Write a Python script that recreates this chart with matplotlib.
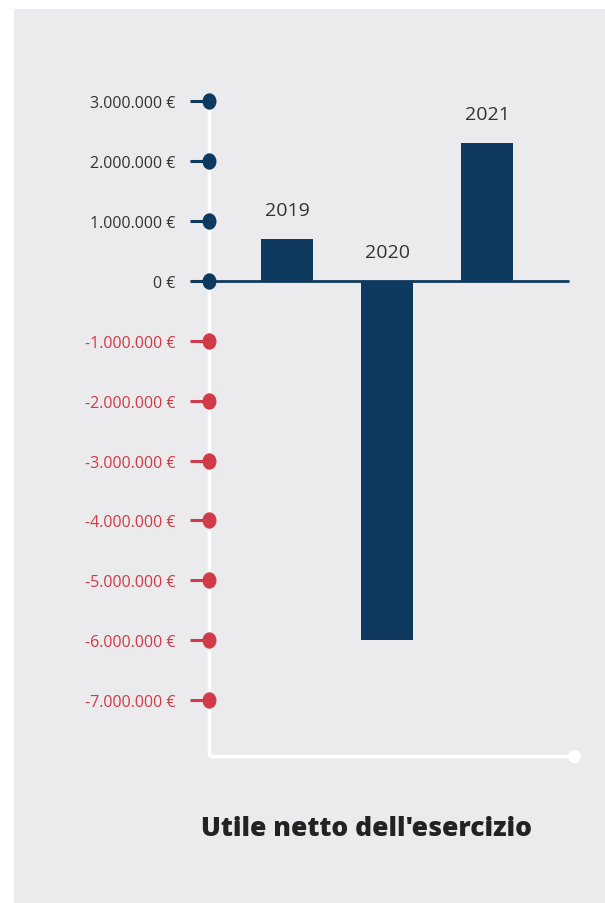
import matplotlib
matplotlib.use("Agg")
import matplotlib.pyplot as plt
from matplotlib.patches import Rectangle
from matplotlib.path import Path
from matplotlib.transforms import Affine2D
import numpy as np

plt.rcParams['font.family'] = ['Open Sans', 'DejaVu Sans']

years = ["2019", "2020", "2021"]
values = [700000, -6000000, 2300000]
tick_values = [3000000, 2000000, 1000000, 0, -1000000, -2000000, -3000000,
               -4000000, -5000000, -6000000, -7000000]
tick_labels = ["3.000.000 €", "2.000.000 €", "1.000.000 €", "0 €",
               "-1.000.000 €", "-2.000.000 €", "-3.000.000 €", "-4.000.000 €",
               "-5.000.000 €", "-6.000.000 €", "-7.000.000 €"]
title = "Utile netto dell'esercizio"

NAVY = "#0F3A5F"
RED = "#D13A48"
GRAY_BG = "#EBEBED"
TEXT = "#333333"

fig = plt.figure(figsize=(6.05, 9.04), dpi=100)
fig.patch.set_facecolor("white")
fig.patches.append(Rectangle((14/605, 0), 1 - 14/605 + 0.01, 1 - 10/904,
                             transform=fig.transFigure, facecolor=GRAY_BG,
                             edgecolor="none", zorder=-10))

ax = fig.add_axes([209/605, 1 - 757/904, (574 - 209)/605, (757 - 102)/904])
ax.set_zorder(1)
ax.set_facecolor("none")
for s in ax.spines.values():
    s.set_visible(False)

x = np.arange(len(years))
xmin, xmax = -0.78, 2.87
ymin, ymax = -7930000, 3000000
ax.set_xlim(xmin, xmax)
ax.set_ylim(ymin, ymax)

# axes lines (white)
ax.plot([xmin, xmin], [ymin, ymax], color="white", lw=2.5, zorder=1, clip_on=False,
        solid_capstyle="butt")
ax.plot([xmin, xmax], [ymin, ymin], color="white", lw=2.5, zorder=1, clip_on=False,
        solid_capstyle="butt")
ax.scatter([xmax], [ymin], s=70, color="white", zorder=2, clip_on=False)

# bars
ax.bar(x, values, width=0.52, color=NAVY, zorder=3)
ax.plot([xmin, 2.82], [0, 0], color=NAVY, lw=2, zorder=4, solid_capstyle="butt")

# year labels
for xi, v, lab in zip(x, values, years):
    ytxt = max(v, 0) + 480000
    ax.text(xi, ytxt, lab, ha="center", va="center", fontsize=14, color=TEXT, zorder=5)

# ticks with dots
ellipse = Path.unit_circle().transformed(Affine2D().scale(0.85, 1.0))
ax.set_xticks([])
ax.set_yticks(tick_values)
ax.set_yticklabels(tick_labels)
ax.tick_params(axis="y", length=14, width=2.2, pad=10, labelsize=11.5)
for tv, tl, tk in zip(tick_values, ax.get_yticklabels(), ax.yaxis.get_major_ticks()):
    c = NAVY if tv >= 0 else RED
    tl.set_color(TEXT if tv >= 0 else RED)
    tk.tick1line.set_markeredgecolor(c)
    tk.tick1line.set_color(c)
    ax.scatter([xmin], [tv], marker=ellipse, s=140, color=c, zorder=6, clip_on=False,
               linewidths=0)

fig.text(366/605, 1 - 829/904, title, ha="center", va="center", fontsize=19,
         fontweight=800, color="#222222")

fig.savefig("out.png", dpi=100)
